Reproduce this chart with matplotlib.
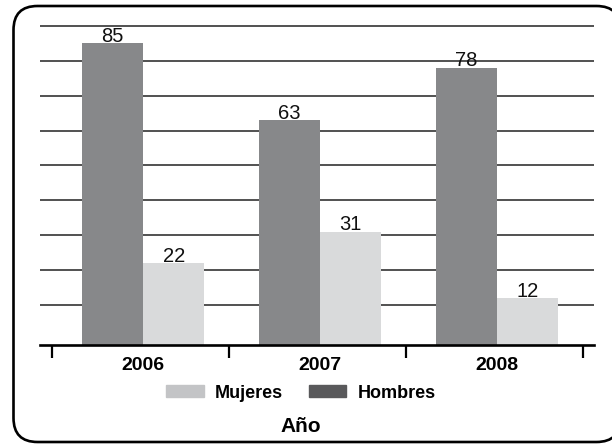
import numpy as np
import matplotlib
matplotlib.use('Agg')
import matplotlib.pyplot as plt
from matplotlib.patches import FancyBboxPatch, Patch

plt.rcParams['font.family'] = ['Liberation Sans', 'DejaVu Sans']

# datos
anios = ['2006', '2007', '2008']
hombres = [85, 63, 78]
mujeres = [22, 31, 12]
series = ['Mujeres', 'Hombres']

c_hombres = '#87888a'
c_mujeres = '#d9dadb'
c_leg_hombres = '#59595b'
c_leg_mujeres = '#c3c4c6'

fig = plt.figure(figsize=(6.12, 4.45), dpi=100)

# marco redondeado en pixeles
bg = fig.add_axes([0, 0, 1, 1], zorder=0)
bg.set_xlim(0, 612)
bg.set_ylim(0, 445)
bg.axis('off')
bg.add_patch(FancyBboxPatch((13.5, 3), 607, 436, boxstyle='round,pad=0,rounding_size=24',
                            fc='white', ec='black', lw=1.9))

ax = fig.add_axes([40 / 612, 100 / 445, 554 / 612, 323 / 445], zorder=1)
ax.patch.set_alpha(0)

base = -1.43
w = 0.345
pos = np.arange(len(anios)) + 0.015

ax.bar(pos - w / 2, np.array(hombres) - base, w, bottom=base, color=c_hombres, zorder=3)
ax.bar(pos + w / 2, np.array(mujeres) - base, w, bottom=base, color=c_mujeres, zorder=3)

for x, v in zip(pos - w / 2, hombres):
    ax.annotate(str(v), (x, v), xytext=(0, 1), textcoords='offset points',
                ha='center', va='baseline', fontsize=14.5, color='#111111')
for x, v in zip(pos + w / 2, mujeres):
    ax.annotate(str(v), (x, v), xytext=(0, 1), textcoords='offset points',
                ha='center', va='baseline', fontsize=14.5, color='#111111')

ax.set_xlim(-0.568, 2.562)
ax.set_ylim(base, 91.1)

# lineas de cuadricula
ax.set_yticks(range(10, 100, 10))
ax.yaxis.grid(True, color='#222222', lw=1.1)
ax.tick_params(axis='y', length=0, labelleft=False)

ax.set_xticks(np.arange(len(anios) + 1) - 0.5)
ax.set_xticklabels([])
ax.set_xticks(pos, minor=True)
ax.set_xticklabels(anios, minor=True, fontsize=14, fontweight='bold')
ax.tick_params(axis='x', which='major', direction='out', length=9.5, width=1.6, color='black')
ax.tick_params(axis='x', which='minor', length=0, pad=8.5)

for s in ['top', 'left', 'right']:
    ax.spines[s].set_visible(False)
ax.spines['bottom'].set_linewidth(1.9)
ax.spines['bottom'].set_zorder(4)

handles = [Patch(color=c_leg_mujeres), Patch(color=c_leg_hombres)]
fig.legend(handles, series, loc='center', bbox_to_anchor=(301 / 612, 1 - 393 / 445),
           ncol=2, frameon=False, handlelength=2.05, handleheight=0.6,
           handletextpad=0.65, columnspacing=1.4,
           prop={'size': 13, 'weight': 'bold'})

fig.text(301 / 612, 1 - 427 / 445, 'Año', ha='center', va='center',
         fontsize=15, fontweight='bold')

fig.savefig('out.png', dpi=100)
